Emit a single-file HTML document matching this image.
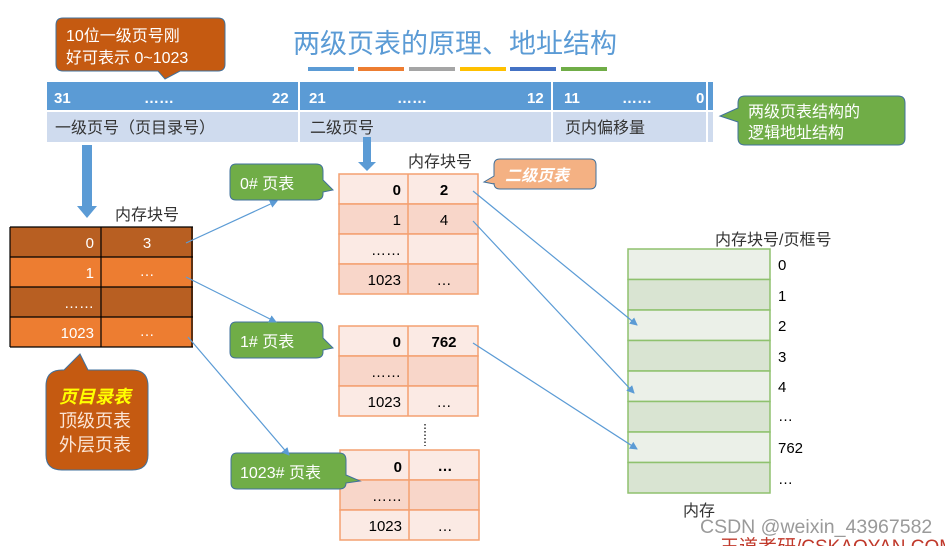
<!DOCTYPE html>
<html><head><meta charset="utf-8"><style>
body{margin:0;background:#fff}
svg{display:block}
text{font-family:"Liberation Sans","Noto Sans CJK SC",sans-serif}
</style></head><body>
<svg width="945" height="546" viewBox="0 0 945 546" xmlns="http://www.w3.org/2000/svg">
<defs>
<marker id="ah" markerWidth="8" markerHeight="8" refX="7" refY="4" orient="auto" markerUnits="userSpaceOnUse"><path d="M0,0 L8,4 L0,8 Z" fill="#5b9bd5"/></marker>
</defs>
<!-- title -->
<text x="293" y="53" font-size="27" fill="#5b9bd5">两级页表的原理、地址结构</text>
<rect x="308" y="67" width="46" height="4" fill="#5b9bd5"/>
<rect x="358" y="67" width="46" height="4" fill="#ed7d31"/>
<rect x="409" y="67" width="46" height="4" fill="#a5a5a5"/>
<rect x="460" y="67" width="46" height="4" fill="#ffc000"/>
<rect x="510" y="67" width="46" height="4" fill="#4472c4"/>
<rect x="561" y="67" width="46" height="4" fill="#70ad47"/>
<!-- top-left callout -->
<path d="M63,18 H218 Q225,18 225,25 V64 Q225,71 218,71 H180 L165,79 L158,71 H63 Q56,71 56,64 V25 Q56,18 63,18 Z" fill="#c55a11" stroke="#41719c" stroke-width="1"/>
<text x="66" y="41" font-size="16" fill="#fff">10位一级页号刚</text>
<text x="66" y="63" font-size="16" fill="#fff">好可表示 0~1023</text>
<!-- address bar -->
<rect x="47" y="82" width="666" height="28" fill="#5b9bd5"/>
<rect x="47" y="112" width="666" height="30" fill="#cfdbee"/>
<rect x="298" y="82" width="2" height="60" fill="#fff"/>
<rect x="551" y="82" width="2" height="60" fill="#fff"/>
<rect x="706" y="82" width="2" height="60" fill="#fff"/>
<g font-size="15" font-weight="bold" fill="#fff">
<text x="54" y="103">31</text><text x="144" y="103">……</text><text x="272" y="103">22</text>
<text x="309" y="103">21</text><text x="397" y="103">……</text><text x="527" y="103">12</text>
<text x="564" y="103">11</text><text x="622" y="103">……</text><text x="696" y="103">0</text>
</g>
<g font-size="16" fill="#333">
<text x="55" y="133">一级页号（页目录号）</text>
<text x="310" y="133">二级页号</text>
<text x="565" y="133">页内偏移量</text>
</g>
<!-- right green callout -->
<path d="M745,96 H898 Q905,96 905,103 V138 Q905,145 898,145 H745 Q738,145 738,138 V122 L720,116 L738,108 V103 Q738,96 745,96 Z" fill="#70ad47" stroke="#41719c" stroke-width="1"/>
<text x="748" y="117" font-size="16" fill="#fff">两级页表结构的</text>
<text x="748" y="138" font-size="16" fill="#fff">逻辑地址结构</text>
<!-- down arrows -->
<path d="M82,145 H92 V206 H97 L87,218 L77,206 H82 Z" fill="#5b9bd5"/>
<path d="M363,137 H371 V162 H376 L367,171 L358,162 H363 Z" fill="#5b9bd5"/>
<!-- left table -->
<text x="115" y="220" font-size="16" fill="#333">内存块号</text>
<rect x="10" y="227" width="183" height="30" fill="#b85f22"/>
<rect x="10" y="257" width="183" height="30" fill="#ed7d31"/>
<rect x="10" y="287" width="183" height="30" fill="#b85f22"/>
<rect x="10" y="317" width="183" height="30" fill="#ed7d31"/>
<g stroke="#000" stroke-width="1.2" fill="none">
<path d="M10,227 H193 M10,257 H193 M10,287 H193 M10,317 H193 M10,347 H193 M10,227 V347 M101,227 V347 M192,227 V347"/>
</g>
<g font-size="15" fill="#fff">
<text x="94" y="248" text-anchor="end">0</text><text x="147" y="248" text-anchor="middle">3</text>
<text x="94" y="278" text-anchor="end">1</text><text x="147" y="276" text-anchor="middle">…</text>
<text x="94" y="308" text-anchor="end">……</text>
<text x="94" y="338" text-anchor="end">1023</text><text x="147" y="336" text-anchor="middle">…</text>
</g>
<!-- bottom-left callout -->
<path d="M64,370 L80,354 L88,370 H132 Q148,370 148,386 V455 Q148,470 132,470 H62 Q46,470 46,455 V386 Q46,370 62,370 Z" fill="#c55a11" stroke="#41719c" stroke-width="1"/>
<text x="59" y="403" font-size="18" font-weight="bold" font-style="italic" fill="#ffff00">页目录表</text>
<text x="59" y="427" font-size="18" fill="#fbe5d6">顶级页表</text>
<text x="59" y="451" font-size="18" fill="#fbe5d6">外层页表</text>
<!-- second-level tables -->
<text x="408" y="167" font-size="16" fill="#333">内存块号</text>
<g stroke="#f4a070" stroke-width="1.5">
<rect x="339" y="174" width="139" height="30" fill="#fbeae4"/>
<rect x="339" y="204" width="139" height="30" fill="#f8d6c9"/>
<rect x="339" y="234" width="139" height="30" fill="#fbeae4"/>
<rect x="339" y="264" width="139" height="30" fill="#f8d6c9"/>
<line x1="408" y1="174" x2="408" y2="294"/>
<rect x="339" y="326" width="139" height="30" fill="#fbeae4"/>
<rect x="339" y="356" width="139" height="30" fill="#f8d6c9"/>
<rect x="339" y="386" width="139" height="30" fill="#fbeae4"/>
<line x1="408" y1="326" x2="408" y2="416"/>
<rect x="340" y="450" width="139" height="30" fill="#fbeae4"/>
<rect x="340" y="480" width="139" height="30" fill="#f8d6c9"/>
<rect x="340" y="510" width="139" height="30" fill="#fbeae4"/>
<line x1="409" y1="450" x2="409" y2="540"/>
</g>
<g font-size="15" fill="#000">
<text x="401" y="195" text-anchor="end" font-weight="bold">0</text><text x="444" y="195" text-anchor="middle" font-weight="bold">2</text>
<text x="401" y="225" text-anchor="end">1</text><text x="444" y="225" text-anchor="middle">4</text>
<text x="401" y="255" text-anchor="end">……</text>
<text x="401" y="285" text-anchor="end">1023</text><text x="444" y="285" text-anchor="middle">…</text>
<text x="401" y="347" text-anchor="end" font-weight="bold">0</text><text x="444" y="347" text-anchor="middle" font-weight="bold">762</text>
<text x="401" y="377" text-anchor="end">……</text>
<text x="401" y="407" text-anchor="end">1023</text><text x="444" y="407" text-anchor="middle">…</text>
<text x="402" y="472" text-anchor="end" font-weight="bold">0</text><text x="445" y="471" text-anchor="middle" font-weight="bold">…</text>
<text x="402" y="501" text-anchor="end">……</text>
<text x="402" y="531" text-anchor="end">1023</text><text x="445" y="531" text-anchor="middle">…</text>
</g>
<line x1="425" y1="424" x2="425" y2="446" stroke="#333" stroke-width="1.5" stroke-dasharray="1.5,2"/>
<!-- green page-table callouts -->
<path d="M236,164 H316 Q323,164 323,171 V180 L333,190 L323,192 V194 Q323,200 316,200 H236 Q230,200 230,194 V171 Q230,164 236,164 Z" fill="#70ad47" stroke="#41719c" stroke-width="1"/>
<text x="240" y="189" font-size="16" fill="#fff">0# 页表</text>
<path d="M236,322 H316 Q323,322 323,329 V338 L333,348 L323,350 V352 Q323,358 316,358 H236 Q230,358 230,352 V329 Q230,322 236,322 Z" fill="#70ad47" stroke="#41719c" stroke-width="1"/>
<text x="240" y="347" font-size="16" fill="#fff">1# 页表</text>
<path d="M237,453 H339 Q346,453 346,460 V475 L360,481 L346,483 V483 Q346,489 339,489 H237 Q231,489 231,483 V460 Q231,453 237,453 Z" fill="#70ad47" stroke="#41719c" stroke-width="1"/>
<text x="240" y="478" font-size="16" fill="#fff">1023# 页表</text>
<!-- 二级页表 callout -->
<path d="M500,159 H590 Q596,159 596,165 V183 Q596,189 590,189 H500 Q494,189 494,183 V184 L484,182 L494,176 V165 Q494,159 500,159 Z" fill="#f4b183" stroke="#41719c" stroke-width="1"/>
<text x="505" y="181" font-size="16" font-weight="bold" font-style="italic" fill="#fff">二级页表</text>
<!-- memory -->
<text x="715" y="245" font-size="16" fill="#333">内存块号/页框号</text>
<g stroke="#8fc16e" stroke-width="1.5">
<rect x="628" y="249" width="142" height="30.5" fill="#ebf0e8"/>
<rect x="628" y="279.5" width="142" height="30.5" fill="#d9e4d2"/>
<rect x="628" y="310" width="142" height="30.5" fill="#ebf0e8"/>
<rect x="628" y="340.5" width="142" height="30.5" fill="#d9e4d2"/>
<rect x="628" y="371" width="142" height="30.5" fill="#ebf0e8"/>
<rect x="628" y="401.5" width="142" height="30.5" fill="#d9e4d2"/>
<rect x="628" y="432" width="142" height="30.5" fill="#ebf0e8"/>
<rect x="628" y="462.5" width="142" height="30.5" fill="#d9e4d2"/>
</g>
<g font-size="15" fill="#000">
<text x="778" y="270">0</text><text x="778" y="301">1</text><text x="778" y="331">2</text>
<text x="778" y="362">3</text><text x="778" y="392">4</text><text x="778" y="421">…</text>
<text x="778" y="453">762</text><text x="778" y="484">…</text>
</g>
<text x="683" y="516" font-size="16" fill="#333">内存</text>
<!-- connectors -->
<g stroke="#5b9bd5" stroke-width="1.2" fill="none" marker-end="url(#ah)">
<line x1="186" y1="243" x2="277" y2="201"/>
<line x1="186" y1="277" x2="276" y2="322"/>
<line x1="188" y1="337" x2="289" y2="455"/>
<line x1="473" y1="191" x2="637" y2="325"/>
<line x1="473" y1="221" x2="634" y2="393"/>
<line x1="473" y1="343" x2="637" y2="449"/>
</g>
<!-- watermark -->
<text x="700" y="533" font-size="19.5" fill="#9a9a9a">CSDN @weixin_43967582</text>
<text x="720" y="553" font-size="19" fill="#c0392b">王道考研/CSKAOYAN.COM</text>
</svg>
</body></html>
